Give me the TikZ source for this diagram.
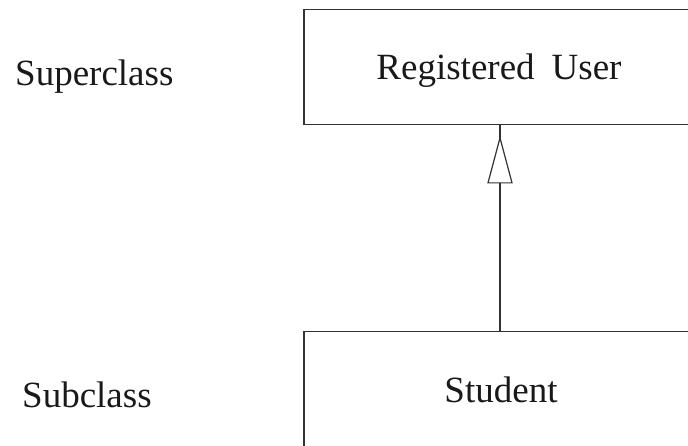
\documentclass[tikz,border=0pt]{standalone}
\usepackage{fontspec}
\setmainfont{Liberation Serif}
\usetikzlibrary{calc}
\begin{document}
\begin{tikzpicture}[x=1pt,y=-1pt,
  classbox/.style={draw=black!80, line width=1.2pt, minimum width=392pt, minimum height=114.5pt, inner sep=0pt},
  lbl/.style={font=\fontsize{37}{40}\selectfont, text=black!90, inner sep=0pt},
  link/.style={draw=black!80, line width=1.2pt}]
\useasboundingbox (0,0) rectangle (688,445);
\begin{scope}
\clip (0,0) rectangle (688,445);
% class boxes
\node[classbox] (reg) at (500,67) {};
\node[classbox] (stu) at (500,389) {};
\node[lbl, anchor=base] (regtxt) at (499,79) {Registered\hspace{17pt}User};
\node[lbl, anchor=base] (stutxt) at (501,402) {Student};
% side labels
\node[lbl, anchor=base west] (sup) at (15,85) {Superclass};
\node[lbl, anchor=base west] (sub) at (22,407) {Subclass};
% generalisation connector with hollow triangle
\draw[link] (stu.north) -- (reg.south);
\coordinate (apex) at ($(reg.south)+(0,13)$);
\draw[link, fill=white, line join=miter] (apex) -- ++(-12,45) -- ++(24,0) -- cycle;
\end{scope}
\end{tikzpicture}
\end{document}
